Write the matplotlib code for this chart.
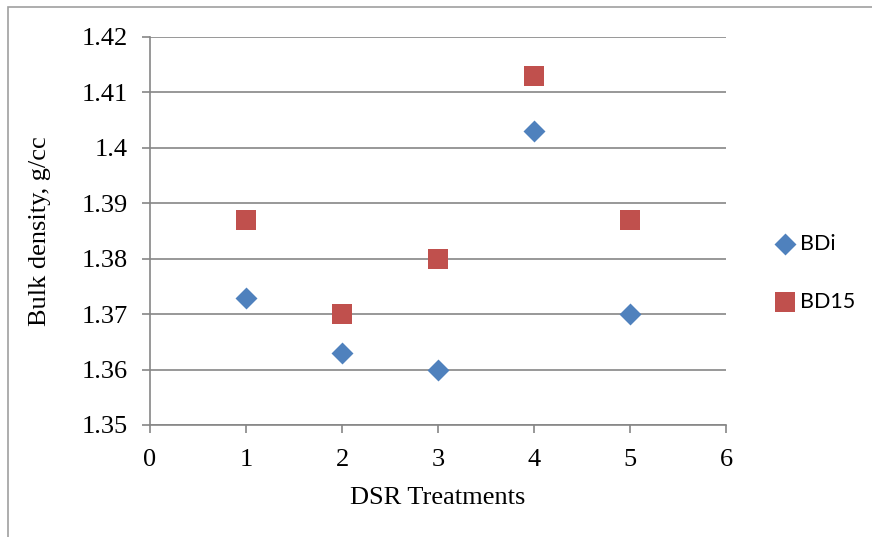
import matplotlib.pyplot as plt
from matplotlib.patches import Rectangle

treatments = [1, 2, 3, 4, 5]
bdi = [1.373, 1.363, 1.360, 1.403, 1.370]
bd15 = [1.387, 1.370, 1.380, 1.413, 1.387]
yticks = [1.35, 1.36, 1.37, 1.38, 1.39, 1.40, 1.41, 1.42]
ytick_labels = ['1.35', '1.36', '1.37', '1.38', '1.39', '1.4', '1.41', '1.42']
xticks = [0, 1, 2, 3, 4, 5, 6]

grid_col = '#868686'
fig = plt.figure(figsize=(8.72, 5.37), dpi=100)
ax = fig.add_axes([150 / 872, 1 - 425 / 537, 576 / 872, 388 / 537])

ax.scatter(treatments, bdi, marker='D', s=125, color='#4F81BD', label='BDi', zorder=3, linewidths=0)
ax.scatter(treatments, bd15, marker='s', s=220, color='#C0504D', label='BD15', zorder=3, linewidths=0)

ax.set_xlim(0, 6)
ax.set_ylim(1.35, 1.42)
ax.set_xticks(xticks)
ax.set_yticks(yticks)
ax.set_yticklabels(ytick_labels)
ax.yaxis.grid(True, color=grid_col, linewidth=1.2)
ax.set_axisbelow(True)

for s in ['top', 'right']:
    ax.spines[s].set_visible(False)
for s in ['left', 'bottom']:
    ax.spines[s].set_color(grid_col)
    ax.spines[s].set_linewidth(1.2)
ax.tick_params(axis='both', colors=grid_col, length=6, width=1.2, labelcolor='black',
               labelsize=19, labelfontfamily='Liberation Serif')
ax.tick_params(axis='y', pad=10)
ax.tick_params(axis='x', pad=11)

ax.set_xlabel('DSR Treatments', fontsize=19, family='Liberation Serif', labelpad=12)
ax.set_ylabel('Bulk density, g/cc', fontsize=19, family='Liberation Serif', labelpad=22)

fig.legend(loc='center left', bbox_to_anchor=(0.876, 0.492), frameon=False,
           prop={'family': 'Lato', 'size': 15.5}, handletextpad=0.1, labelspacing=1.75,
           handlelength=1.2, borderaxespad=0)

# outer chart-area border (left and top edges visible)
fig.patches.append(Rectangle((8 / 872, -0.1), 1.2, 1.1 - 7 / 537, transform=fig.transFigure,
                             fill=False, edgecolor='#A0A0A0', linewidth=1.2))

fig.savefig('out.png', dpi=100)
